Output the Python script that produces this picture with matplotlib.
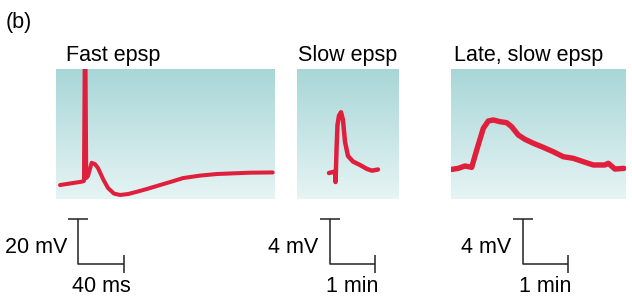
import numpy as np
import matplotlib
matplotlib.use("Agg")
import matplotlib.pyplot as plt
from matplotlib.colors import LinearSegmentedColormap

plt.rcParams['font.family'] = ['Liberation Sans', 'DejaVu Sans']

# ---------------- data ----------------
titles = ["Fast epsp", "Slow epsp", "Late, slow epsp"]

# Fast epsp: time (ms) vs membrane potential change (mV)
fast_t = [3.5, 12.2, 22.3, 24.3, 25.0, 25.6, 26.3, 27.8, 31.0, 33.9, 36.5, 40.9,
          45.2, 50.4, 55.7, 62.6, 70.2, 80.0, 90.4, 100.9, 110.4, 125.2, 139.7,
          153.9, 168.7, 188.4]
fast_v = [0.0, 0.7, 1.5, 1.8, 60.0, 60.0, 3.1, 4.0, 9.9, 9.3, 7.6, 2.7,
          -1.3, -3.8, -4.4, -4.0, -3.0, -1.6, 0.0, 1.6, 3.1, 4.2, 4.9,
          5.2, 5.5, 5.6]

# Slow epsp: time (min) vs mV
slow_t = [0.711, 0.80, 0.844, 0.856, 0.862, 0.878, 0.90, 0.933, 0.978, 1.022,
          1.067, 1.133, 1.244, 1.40, 1.556, 1.667, 1.80]
slow_v = [-0.09, 0.0, 0.04, -0.89, -0.36, 1.96, 4.18, 4.98, 5.29, 4.62,
          2.67, 1.42, 0.93, 0.62, 0.27, 0.12, 0.22]

# Late, slow epsp: time (min) vs mV
late_t = [0.016, 0.162, 0.311, 0.46, 0.571, 0.718, 0.829, 0.94, 1.089, 1.238,
          1.349, 1.496, 1.644, 1.829, 2.051, 2.273, 2.496, 2.718, 2.94, 3.162,
          3.422, 3.496, 3.644, 3.844]
late_v = [-0.12, -0.03, 0.18, 0.06, 1.59, 3.51, 4.16, 4.25, 4.10, 4.01,
          3.65, 2.92, 2.54, 2.19, 1.83, 1.44, 1.0, 0.86, 0.56, 0.27,
          0.27, 0.42, -0.09, -0.03]

# scale bars: (time length, voltage length, time label, voltage label)
bar_t = [40, 1, 1]
bar_v = [20, 4, 4]
bar_t_labels = ["40 ms", "1 min", "1 min"]
bar_v_labels = ["20 mV", "4 mV", "4 mV"]

# ---------------- layout ----------------
W, H = 632, 304
fig = plt.figure(figsize=(W / 100, H / 100), dpi=100)

def px_axes(x0, x1, y0, y1):
    return fig.add_axes([x0 / W, 1 - y1 / H, (x1 - x0) / W, (y1 - y0) / H])

top, bot = 69, 199
axes = [px_axes(56, 275, top, bot), px_axes(297, 399, top, bot), px_axes(451, 626, top, bot)]
xlims = [(0, 190.4), (0, 2.267), (0, 3.89)]
ylims = [(-6.2, 51.6), (-2.39, 9.12), (-2.74, 8.76)]
bar_origin = [(19.4, -35.2), (0.724, -8.17), (1.596, -8.52)]
title_dx = [10.0, 1.0, 3.0]
lws = [2.9, 3.2, 3.9]

cmap = LinearSegmentedColormap.from_list("bg", ["#a8d6d7", "#e6f4f4"])
grad = np.linspace(0, 1, 256).reshape(-1, 1)
red = "#e01f3d"

series = [(fast_t, fast_v), (slow_t, slow_v), (late_t, late_v)]

for i, ax in enumerate(axes):
    ax.set_xlim(*xlims[i])
    ax.set_ylim(*ylims[i])
    ax.imshow(grad, cmap=cmap, aspect='auto', origin='upper',
              extent=[*xlims[i], *ylims[i]], zorder=0)
    ax.set_xlim(*xlims[i])
    ax.set_ylim(*ylims[i])
    t, v = series[i]
    ax.plot(t, v, color=red, lw=lws[i], solid_joinstyle='round',
            solid_capstyle='round', zorder=2)
    for s in ax.spines.values():
        s.set_visible(False)
    ax.set_xticks([])
    ax.set_yticks([])

    ax.annotate(titles[i], xy=(0, 1), xycoords='axes fraction',
                xytext=(title_dx[i] * 0.72, 8 * 0.72), textcoords='offset points',
                ha='left', va='baseline', fontsize=15.5, color='black')

    # scale bar
    t0, v0 = bar_origin[i]
    kw = dict(color='#222222', lw=1.1, clip_on=False, solid_capstyle='butt')
    ax.plot([t0, t0, t0 + bar_t[i]], [v0 + bar_v[i], v0, v0], **kw)
    ax.plot([t0], [v0 + bar_v[i]], marker='_', ms=14, mew=1.1, color='#222222', clip_on=False)
    ax.plot([t0 + bar_t[i]], [v0], marker='|', ms=13.5, mew=1.1, color='#222222', clip_on=False)
    ax.annotate(bar_v_labels[i], xy=(t0, v0 + bar_v[i] * 0.37), xycoords='data',
                xytext=(-8, 0), textcoords='offset points',
                ha='right', va='center', fontsize=15.5, annotation_clip=False)
    ax.annotate(bar_t_labels[i], xy=(t0 + bar_t[i] / 2, v0), xycoords='data',
                xytext=(0, -16), textcoords='offset points',
                ha='center', va='center', fontsize=15.5, annotation_clip=False)

fig.text(6 / W, 1 - 28 / H, "(b)", ha='left', va='baseline', fontsize=15.5)

fig.savefig("out.png", dpi=100)
